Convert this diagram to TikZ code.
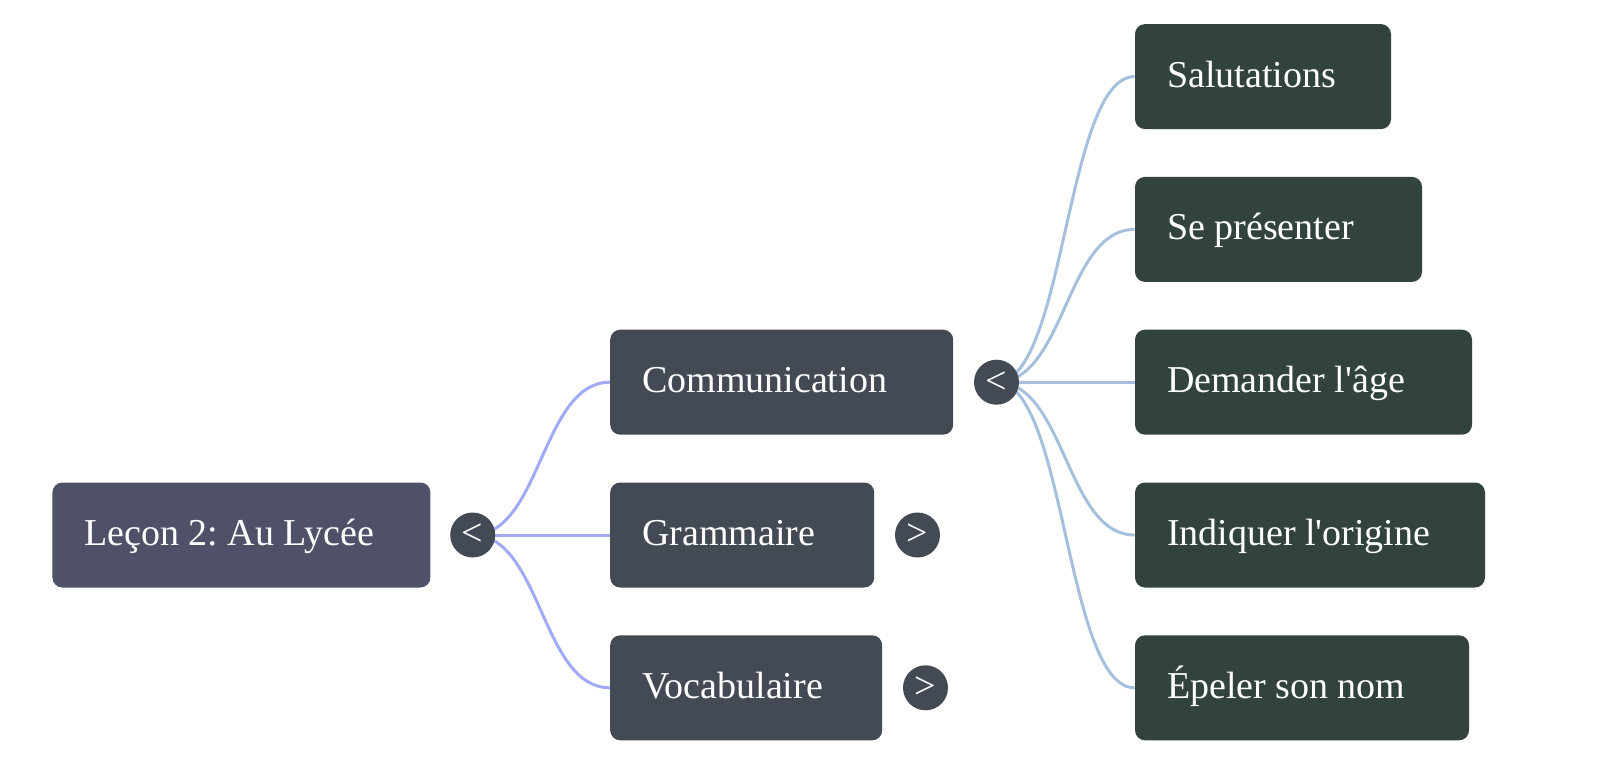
\documentclass[tikz,border=0pt]{standalone}
\usepackage{fontspec}
\setmainfont{Liberation Serif}
\usetikzlibrary{positioning,calc,backgrounds}

\definecolor{rootfill}{HTML}{4F5168}
\definecolor{midfill}{HTML}{434A54}
\definecolor{leaffill}{HTML}{32423E}
\definecolor{rootline}{HTML}{A2AAF6}
\definecolor{leafline}{HTML}{A5BFDD}

\tikzset{
	box/.style={rounded corners=5pt, minimum height=52.5pt, inner xsep=16pt,
		text height=14.5pt, text depth=4pt, align=flush left, text=white,
		font=\fontsize{19pt}{23pt}\selectfont\frenchspacing},
	toggle/.style={circle, fill=midfill, minimum size=22.5pt, inner sep=0pt,
		text=white, font=\fontsize{19pt}{23pt}\selectfont},
	branch/.style={to path={let \p1=(\tikztostart), \p2=(\tikztotarget) in
		.. controls ({(\x1+\x2)/2},\y1) and ({(\x1+\x2)/2},\y2) .. (\tikztotarget)}},
	rootlink/.style={draw=rootline, line width=1.5pt},
	leaflink/.style={draw=leafline, line width=1.5pt}
}

\begin{document}
\begin{tikzpicture}[x=0.5pt,y=-0.5pt]
		
		\useasboundingbox (0,0) rectangle (1600,765);
		
		% Root
		\node[box,
		fill=rootfill,
		anchor=west,
		text width=157pt] (root) at (52,535) {Leçon 2: Au Lycée};
		
		\node[toggle,
		right=9.5pt of root] (roottog) {<};
		
		% First level
		\node[box,
		fill=midfill,
		right=89.5pt of root,
		text width=100pt] (gram) {Grammaire};
		
		\node[box,
		fill=midfill,
		above right=23.5pt and 0pt of gram.north west,
		text width=139.5pt] (comm) {Communication};
		
		\node[box,
		fill=midfill,
		below right=23.5pt and 0pt of gram.south west,
		text width=104pt] (voca) {Vocabulaire};
		
		\node[toggle,
		right=10pt of comm] (commtog) {<};
		
		\node[toggle,
		right=10pt of gram] (gramtog) {>};
		
		\node[toggle,
		right=10pt of voca] (vocatog) {>};
		
		% Second level
		\node[box,
		fill=leaffill,
		right=90.5pt of comm,
		text width=136.5pt] (age) {Demander l\textquotesingle âge};
		
		\node[box,
		fill=leaffill,
		above right=23.5pt and 0pt of age.north west,
		text width=111.5pt] (pres) {Se présenter};
		
		\node[box,
		fill=leaffill,
		above right=23.5pt and 0pt of pres.north west,
		text width=96pt] (salu) {Salutations};
		
		\node[box,
		fill=leaffill,
		below right=23.5pt and 0pt of age.south west,
		text width=143pt] (orig) {Indiquer l\textquotesingle origine};
		
		\node[box,
		fill=leaffill,
		below right=23.5pt and 0pt of orig.south west,
		text width=135pt] (nom) {Épeler son nom};
		
		% Links
		\begin{scope}[on background layer]
		\draw[rootlink]
		(roottog.center) edge[branch] (comm.west)
		(roottog.center) edge[branch] (gram.west)
		(roottog.center) edge[branch] (voca.west);
		
		\draw[leaflink]
		(commtog.center) edge[branch] (salu.west)
		(commtog.center) edge[branch] (pres.west)
		(commtog.center) edge[branch] (age.west)
		(commtog.center) edge[branch] (orig.west)
		(commtog.center) edge[branch] (nom.west);
		\end{scope}
		
\end{tikzpicture}
\end{document}
